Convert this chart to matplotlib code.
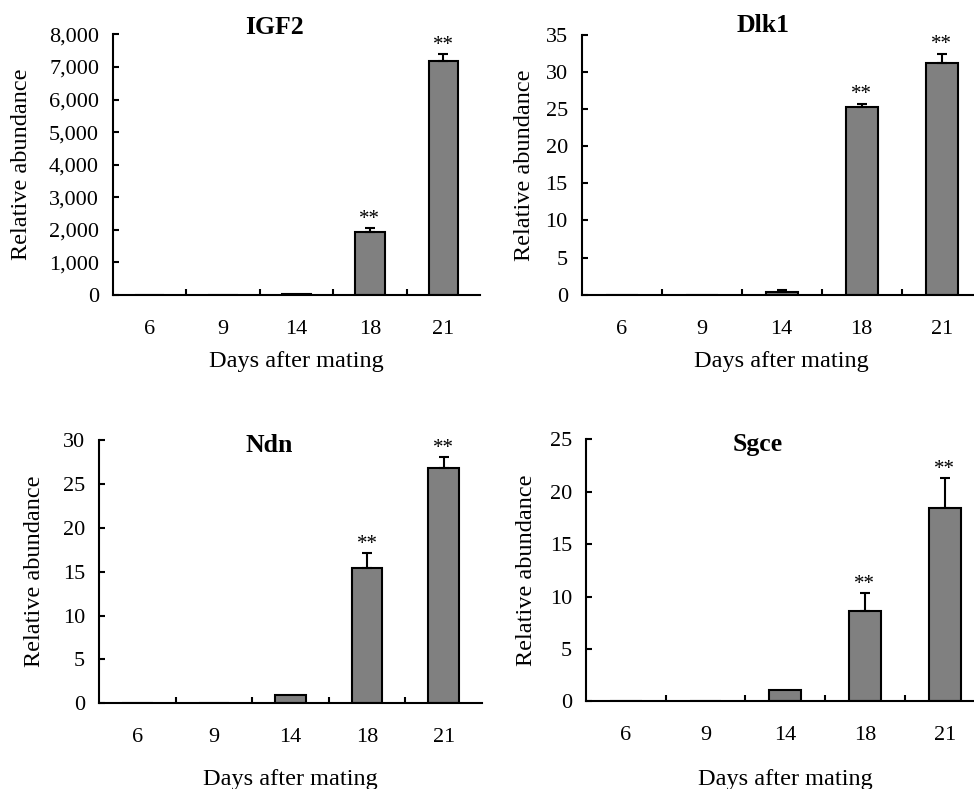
import matplotlib
matplotlib.use("Agg")
import matplotlib.pyplot as plt
import numpy as np
from matplotlib.ticker import FuncFormatter, MultipleLocator, FixedLocator

plt.rcParams['font.family'] = ['Liberation Serif', 'DejaVu Serif']

days = ['6', '9', '14', '18', '21']

igf2 = [1, 2, 25, 1930, 7200]
igf2_err = [0, 0, 0, 110, 200]
dlk1 = [0, 0, 0.35, 25.35, 31.2]
dlk1_err = [0, 0, 0.25, 0.4, 1.3]
ndn = [0, 0, 1.0, 15.4, 26.8]
ndn_err = [0, 0, 0, 1.7, 1.25]
sgce = [0, 0, 1.05, 8.6, 18.4]
sgce_err = [0, 0, 0, 1.75, 2.9]

titles = ['IGF2', 'Dlk1', 'Ndn', 'Sgce']
ymax = [8000, 35, 30, 25]
ystep = [1000, 5, 5, 5]
signif = [[False, False, False, True, True]] * 4

W, H = 974, 789
fig = plt.figure(figsize=(W / 100, H / 100), dpi=100)
fig.patch.set_facecolor('white')

# pixel boxes: left, right, top, bottom
boxes = [(113, 480, 34.5, 294.7),
         (581.7, 981.7, 35, 294.7),
         (99, 482, 440, 703.3),
         (586, 984.5, 439.3, 701.3)]
title_pos = [(275, 27), (763, 25), (269, 445), (758, 445)]
ylabel_x = [22, 525, 35, 527]
xlabel_y = [362, 362, 780, 780]

values = [igf2, dlk1, ndn, sgce]
errors = [igf2_err, dlk1_err, ndn_err, sgce_err]

for i in range(4):
    l, r, t, b = boxes[i]
    ax = fig.add_axes([l / W, 1 - b / H, (r - l) / W, (b - t) / H])
    x = np.arange(len(days))
    v = np.array(values[i], dtype=float)
    e = np.array(errors[i], dtype=float)
    ax.bar(x, v, width=0.4, color='#808080', edgecolor='black', linewidth=1.5, zorder=2)
    m = e > 0
    ax.errorbar(x[m], v[m], yerr=[np.zeros(m.sum()), e[m]], fmt='none', ecolor='black',
                elinewidth=1.5, capsize=3.6, capthick=1.5, zorder=3)
    for xi, vi, ei, s in zip(x, v, e, signif[i]):
        if s:
            ax.annotate('**', xy=(xi, vi + ei), xytext=(0, 3), textcoords='offset points',
                        ha='center', va='baseline', fontsize=15)
    ax.set_xlim(-0.5, len(days) - 0.5)
    ax.set_ylim(0, ymax[i])
    ax.spines['top'].set_visible(False)
    ax.spines['right'].set_visible(False)
    ax.spines['left'].set_linewidth(1.5)
    ax.spines['bottom'].set_linewidth(1.5)
    ax.set_xticks(x)
    ax.set_xticklabels(days)
    ax.xaxis.set_minor_locator(FixedLocator(np.arange(0.5, len(days) - 0.5, 1)))
    ax.tick_params(axis='x', which='major', length=0, pad=18, labelsize=16)
    ax.tick_params(axis='x', which='minor', direction='in', length=4, width=1.5)
    ax.yaxis.set_major_locator(MultipleLocator(ystep[i]))
    if ymax[i] >= 1000:
        ax.yaxis.set_major_formatter(FuncFormatter(lambda val, p: f'{int(val):,}'))
    ax.tick_params(axis='y', direction='in', length=4, width=1.5, pad=10, labelsize=16)
    ax.set_ylabel('Relative abundance', fontsize=17.5)
    ax.yaxis.set_label_coords((ylabel_x[i] - l) / (r - l), 0.5)
    ax.set_xlabel('Days after mating', fontsize=17.5)
    ax.xaxis.set_label_coords(0.5, -(xlabel_y[i] - b) / (b - t))
    ax.xaxis.label.set_va('center')
    ax.yaxis.label.set_va('center')
    fig.text(title_pos[i][0] / W, 1 - title_pos[i][1] / H, titles[i], ha='center', va='center',
             fontsize=18.5, fontweight='bold')

fig.savefig('out.png', dpi=100, facecolor='white')
